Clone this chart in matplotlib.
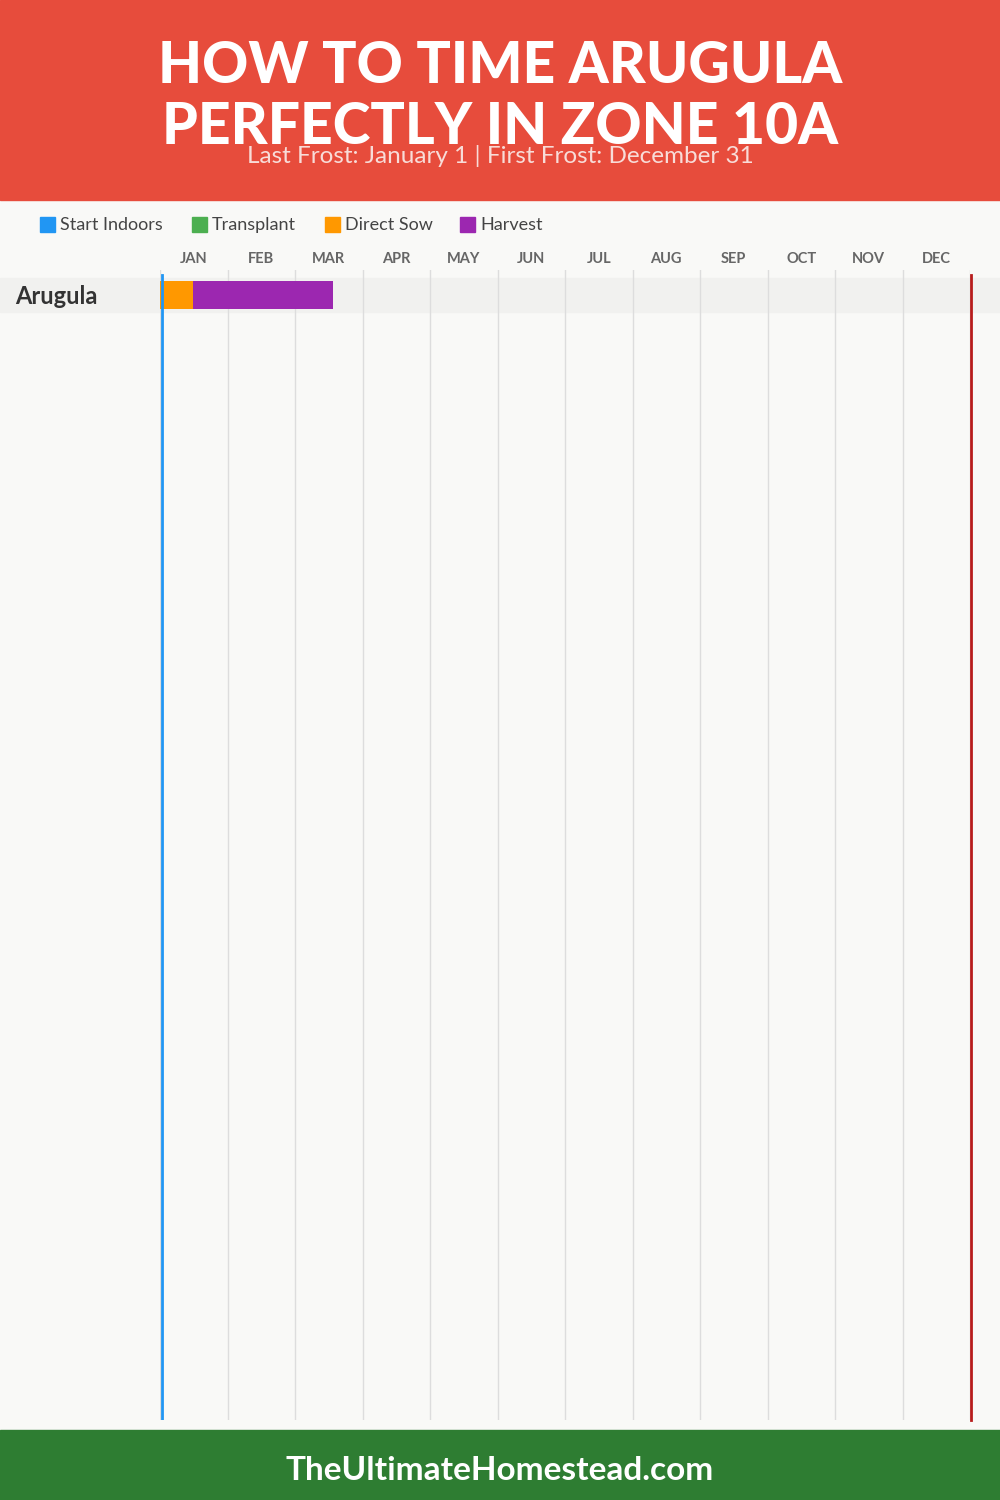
import matplotlib.pyplot as plt
from matplotlib.patches import Rectangle

# data
months = ['JAN', 'FEB', 'MAR', 'APR', 'MAY', 'JUN', 'JUL', 'AUG', 'SEP', 'OCT', 'NOV', 'DEC']
crops = ['Arugula']
stages = ['Start Indoors', 'Transplant', 'Direct Sow', 'Harvest']
stage_colors = ['#2196F3', '#4CAF50', '#FF9800', '#9C27B0']
# (stage index, crop index, start day, end day)
periods = [(2, 0, 0, 15), (3, 0, 15, 78)]
last_frost_day = 0
first_frost_day = 365

title = 'HOW TO TIME ARUGULA\nPERFECTLY IN ZONE 10A'
subtitle = 'Last Frost: January 1 | First Frost: December 31'
footer = 'TheUltimateHomestead.com'

W, H = 1000, 1500
bg = '#F9F9F7'
plt.rcParams['font.family'] = ['Lato', 'DejaVu Sans']

fig = plt.figure(figsize=(W / 100, H / 100), dpi=100, facecolor=bg)

def px(x, y):
    return x / W, 1 - y / H

# header / footer
fig.patches.append(Rectangle((0, 1 - 200 / H), 1, 200 / H, transform=fig.transFigure,
                             color='#E74C3C', zorder=0))
fig.patches.append(Rectangle((0, 0), 1, 70 / H, transform=fig.transFigure,
                             color='#2E7D32', zorder=0))
fig.text(*px(500, 97), title, ha='center', va='center', color='white',
         fontsize=41, fontweight='black', linespacing=1.2)
fig.text(*px(500, 156), subtitle, ha='center', va='center', color='#F8DCD8', fontsize=17.5)
fig.text(*px(500, 1471), footer, ha='center', va='center', color='white',
         fontsize=24, fontweight='bold')

# legend
lx = [40, 192, 325, 460]
for i, name in enumerate(stages):
    fig.patches.append(Rectangle(px(lx[i], 232), 15 / W, 15 / H, transform=fig.transFigure,
                                 color=stage_colors[i]))
    fig.text(*px(lx[i] + 20, 225), name, ha='left', va='center', color='#444444', fontsize=13)

# chart axes
x0, x1, y0, y1 = 160, 970, 270, 1420
ax = fig.add_axes([x0 / W, 1 - y1 / H, (x1 - x0) / W, (y1 - y0) / H])
ax.set_facecolor('none')
for s in ax.spines.values():
    s.set_visible(False)

unit = 34.0
ax.set_xlim(0, 12)

# row band
for r in range(len(crops)):
    ax.axhspan(r - 0.5, r + 0.5, xmin=-x0 / (x1 - x0), xmax=1 + 30 / (x1 - x0),
               color='#F1F1EF', clip_on=False, zorder=0)

# month grid
ax.set_xticks(range(13), minor=True)
ax.grid(True, which='minor', axis='x', color='#DDDDDD', linewidth=1)
ax.tick_params(which='minor', length=0)
ax.xaxis.tick_top()
ax.set_xticks([m + 0.5 for m in range(12)])
ax.set_xticklabels(months, fontsize=10.5, fontweight='bold', color='#666666')
ax.tick_params(axis='x', which='major', length=0, pad=3)

# bars
for stage, crop, start, end in periods:
    a = start / 365 * 12
    b = end / 365 * 12
    ax.barh(crop, b - a, left=a, height=0.85, color=stage_colors[stage], zorder=3)

ax.set_yticks(range(len(crops)))
ax.set_yticklabels(crops, fontsize=17, fontweight='bold', color='#333333', ha='left')
ax.tick_params(axis='y', length=0, pad=145 * 0.72)
ax.set_ylim((y1 - 295) / unit, -(295 - y0) / unit)

# frost lines
ax.axvline(last_frost_day / 365 * 12 + 0.03, ymax=1 - 5 / (y1 - y0), color='#2196F3',
           linewidth=2, zorder=4)
ax.axvline(first_frost_day / 365 * 12 + 0.02, ymax=1 - 5 / (y1 - y0), color='#B71C1C',
           linewidth=2, zorder=4, clip_on=False)

fig.savefig('out.png', dpi=100, facecolor=bg)
